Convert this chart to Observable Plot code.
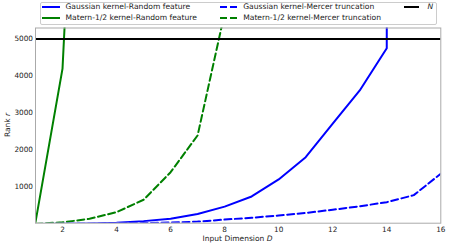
<!DOCTYPE html>
<html><head><meta charset="utf-8">
<script src="https://cdn.jsdelivr.net/npm/d3@7"></script>
<script src="https://cdn.jsdelivr.net/npm/@observablehq/plot@0.6"></script>
<style>
body{margin:0;background:#fff;font-family:"DejaVu Sans",sans-serif;}
#wrap{position:relative;width:463px;height:245px;}
#legend{position:absolute;left:40px;top:2px;width:397px;height:23px;border:1px solid #ccc;border-radius:2px;background:rgba(255,255,255,0.9);box-sizing:border-box;font-size:7.6px;color:#222;}
.item{position:absolute;white-space:nowrap;height:10px;line-height:10px;}
.item svg{position:absolute;left:0;top:0;}
.item span{position:absolute;top:0;}
</style></head>
<body><div id="wrap"></div>
<script>
// Data
const dimsGaussRF = [1,2,3,4,5,6,7,8,9,10,11,12,13,14,15];
const gaussRF     = [2,5,15,35,78,143,270,470,745,1205,1807,2710,3610,4750,1000000];
const dimsMaternRF = [1,2,3];
const maternRF     = [50,4200,19000];
const dimsGaussMercer = [1,2,3,4,5,6,7,8,9,10,11,12,13,14,15,16];
const gaussMercer     = [1,3,8,15,25,40,65,120,170,230,300,385,480,590,780,1360];
const dimsMaternMercer = [1,2,3,4,5,6,7,8,9];
const maternMercer     = [5,45,140,320,655,1400,2395,5700,1000000];
const N = 5000;
const xTicks = [2,4,6,8,10,12,14,16];
const yTicks = [1000,2000,3000,4000,5000];
const seriesNames = ["Gaussian kernel-Random feature","Gaussian kernel-Mercer truncation","N",
                     "Matern-1/2 kernel-Random feature","Matern-1/2 kernel-Mercer truncation"];

const toRows = (xs, ys) => xs.map((d, i) => ({D: d, r: ys[i]}));

const plot = Plot.plot({
  width: 463, height: 245,
  marginLeft: 35, marginRight: 22.7, marginTop: 27.5, marginBottom: 22.3,
  style: {fontFamily: "DejaVu Sans, sans-serif", fontSize: "7.3px", color: "#222", background: "#fff"},
  x: {domain: [1, 16], ticks: xTicks, tickSize: 0, tickPadding: 3.5, label: null},
  y: {domain: [22, 5297], ticks: yTicks, tickSize: 0, tickPadding: 2.5, tickFormat: "d", label: null},
  marks: [
    Plot.line(toRows(dimsGaussMercer, gaussMercer), {x: "D", y: "r", stroke: "#0000ff", strokeWidth: 2, strokeDasharray: "7,3.5", clip: true}),
    Plot.line(toRows(dimsMaternMercer, maternMercer), {x: "D", y: "r", stroke: "#008000", strokeWidth: 2, strokeDasharray: "7,3.5", clip: true}),
    Plot.line(toRows(dimsGaussRF, gaussRF), {x: "D", y: "r", stroke: "#0000ff", strokeWidth: 2, clip: true}),
    Plot.line(toRows(dimsMaternRF, maternRF), {x: "D", y: "r", stroke: "#008000", strokeWidth: 2, clip: true}),
    Plot.ruleY([N], {stroke: "#000", strokeWidth: 2}),
    Plot.frame({stroke: "#aaa", strokeWidth: 1})
  ]
});
document.getElementById("wrap").appendChild(plot);

const svg = d3.select(plot);
const xl = svg.append("text").attr("x", 237.5).attr("y", 241.2).attr("text-anchor", "middle")
  .attr("fill", "#222").style("font-size", "7.5px");
xl.append("tspan").text("Input Dimension ");
xl.append("tspan").attr("font-style", "italic").text("D");
const yl = svg.append("text").attr("transform", "translate(10,125) rotate(-90)").attr("text-anchor", "middle")
  .attr("fill", "#222").style("font-size", "7.5px");
yl.append("tspan").text("Rank ");
yl.append("tspan").attr("font-style", "italic").text("r");

// Legend
const leg = document.createElement("div");
leg.id = "legend";
document.getElementById("wrap").appendChild(leg);
const legItems = [
  {name: seriesNames[0], color: "#0000ff", dash: null, col: 0, row: 0},
  {name: seriesNames[1], color: "#0000ff", dash: "7,3", col: 1, row: 0},
  {name: seriesNames[2], color: "#000", dash: null, col: 2, row: 0, italic: true},
  {name: seriesNames[3], color: "#008000", dash: null, col: 0, row: 1},
  {name: seriesNames[4], color: "#008000", dash: "7,3", col: 1, row: 1}
];
const colX = [1.2, 178.8, 362.8];
const colText = [24.5, 202.2, 386.5];
const rowY = [-0.6, 10.4];
legItems.forEach(it => {
  const d = document.createElement("div");
  d.className = "item";
  d.style.left = colX[it.col] + "px";
  d.style.top = rowY[it.row] + "px";
  const lineW = it.col === 2 ? 15.5 : 18;
  d.innerHTML = `<svg width="${lineW}" height="10"><line x1="0" x2="${lineW}" y1="5" y2="5" stroke="${it.color}" stroke-width="2" ${it.dash ? `stroke-dasharray="${it.dash}"` : ""}/></svg>` +
    `<span style="left:${colText[it.col] - colX[it.col]}px;${it.italic ? "font-style:italic;" : ""}">${it.name}</span>`;
  leg.appendChild(d);
});
</script>
</body></html>
